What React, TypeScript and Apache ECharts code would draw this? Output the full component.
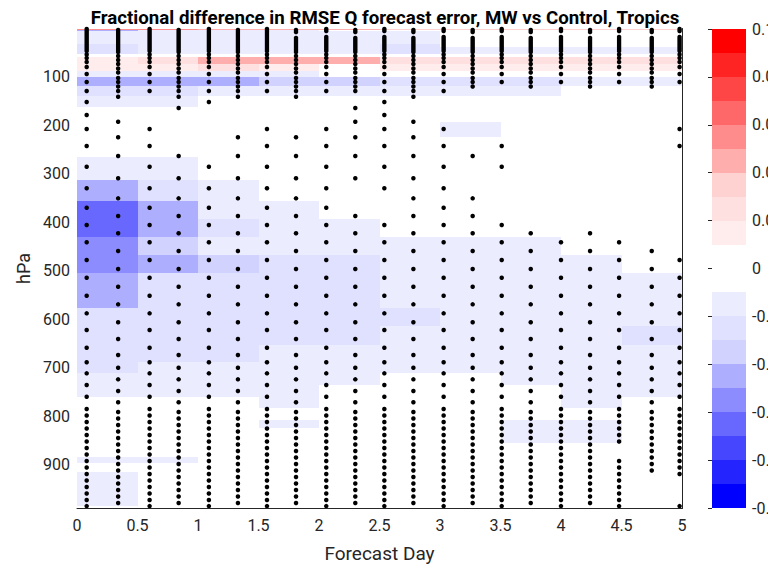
import React, { useEffect, useRef } from 'react';
import * as echarts from 'echarts';

const chartTitle = 'Fractional difference in RMSE Q forecast error, MW vs Control, Tropics';

// heatmap cell edges
const dayEdges = [0, 0.5, 1, 1.5, 2, 2.5, 3, 3.5, 4, 4.5, 5];
const pressureEdges = [0, 3, 6, 32, 38, 53, 59, 73, 88, 100, 118.6, 139.2, 161.9, 192.9, 223.8, 265, 312.5, 355.8, 393, 430, 467.2, 504.3, 539.4, 576.5, 613.7, 652.9, 688, 710.7, 735.4, 760.3, 782.9, 807.7, 824.3, 855.2, 884.1, 896.5, 915, 985];
const pressureTicks = [100, 200, 300, 400, 500, 600, 700, 800, 900];

// fractional difference, one row per pressure band, one column per half day
const fracDiff = [
  [0.055, 0.055, 0.045, 0.045, 0.045, 0.035, 0.035, 0.035, 0.035, 0.035],
  [-0.045, -0.015, -0.015, -0.015, 0, 0, 0, 0, 0, 0],
  [-0.015, -0.015, -0.015, -0.015, -0.015, -0.015, 0, 0, 0, 0],
  [-0.025, -0.015, -0.015, -0.015, -0.015, -0.025, 0, 0, 0, 0],
  [-0.025, -0.015, -0.015, -0.015, -0.015, -0.025, -0.015, -0.015, -0.015, -0.015],
  [0, 0, 0, 0, 0, 0, 0, 0, 0, 0],
  [0.015, 0.025, 0.045, 0.045, 0.045, 0.025, 0.025, 0.025, 0.025, 0.025],
  [0.015, 0.015, 0.025, 0.015, 0, 0.015, 0.015, 0.015, 0.015, 0.015],
  [-0.015, -0.015, -0.015, -0.015, 0, 0, 0, 0, 0, 0],
  [-0.045, -0.045, -0.045, -0.035, -0.035, -0.025, -0.025, -0.025, -0.015, -0.015],
  [-0.025, -0.025, -0.015, -0.015, -0.015, -0.015, -0.015, -0.015, 0, 0],
  [-0.015, -0.015, 0, 0, 0, 0, 0, 0, 0, 0],
  [0, 0, 0, 0, 0, 0, 0, 0, 0, 0],
  [0, 0, 0, 0, 0, 0, -0.015, 0, 0, 0],
  [0, 0, 0, 0, 0, 0, 0, 0, 0, 0],
  [-0.015, -0.015, 0, 0, 0, 0, 0, 0, 0, 0],
  [-0.045, -0.025, -0.015, 0, 0, 0, 0, 0, 0, 0],
  [-0.065, -0.045, -0.015, -0.015, 0, 0, 0, 0, 0, 0],
  [-0.065, -0.045, -0.025, -0.015, -0.015, 0, 0, 0, 0, 0],
  [-0.055, -0.035, -0.015, -0.015, -0.015, -0.015, -0.015, -0.015, 0, 0],
  [-0.055, -0.045, -0.035, -0.025, -0.025, -0.015, -0.015, -0.015, -0.015, 0],
  [-0.045, -0.025, -0.025, -0.025, -0.025, -0.015, -0.015, -0.015, -0.015, -0.015],
  [-0.045, -0.025, -0.025, -0.025, -0.025, -0.015, -0.015, -0.015, -0.015, -0.015],
  [-0.025, -0.025, -0.025, -0.025, -0.025, -0.025, -0.015, -0.015, -0.015, -0.015],
  [-0.025, -0.025, -0.025, -0.025, -0.025, -0.015, -0.015, -0.015, -0.015, -0.025],
  [-0.025, -0.025, -0.025, -0.015, -0.015, -0.015, -0.015, -0.015, -0.015, -0.015],
  [-0.025, -0.015, -0.015, -0.015, -0.015, -0.015, -0.015, -0.015, -0.015, -0.015],
  [-0.015, -0.015, -0.015, -0.015, -0.015, 0, 0, -0.015, -0.015, -0.015],
  [-0.015, -0.015, -0.015, -0.015, 0, 0, 0, 0, -0.015, -0.015],
  [0, 0, 0, -0.015, 0, 0, 0, 0, -0.015, 0],
  [0, 0, 0, 0, 0, 0, 0, 0, 0, 0],
  [0, 0, 0, -0.015, 0, 0, 0, -0.015, -0.015, 0],
  [0, 0, 0, 0, 0, 0, 0, -0.015, -0.015, 0],
  [0, 0, 0, 0, 0, 0, 0, 0, 0, 0],
  [-0.015, -0.015, 0, 0, 0, 0, 0, 0, 0, 0],
  [0, 0, 0, 0, 0, 0, 0, 0, 0, 0],
  [-0.015, 0, 0, 0, 0, 0, 0, 0, 0, 0],
];

// significance dots
const dotDays = [0.08, 0.34, 0.6, 0.84, 1.09, 1.33, 1.57, 1.81, 2.06, 2.3, 2.54, 2.78, 3.03, 3.27, 3.51, 3.75, 4.0, 4.24, 4.48, 4.75, 4.98];
const levelsA = [1.0, 5.2, 9.3, 13.4, 17.5, 21.7, 25.8, 29.9, 34.0, 38.2, 42.3, 46.4, 53.6, 60.9, 69.1, 79.4, 93.9, 110.4, 128.9, 151.6, 178.4, 207.3, 242.4, 285.1, 329.6, 369.6, 405.3, 441.0, 477.5, 514.0, 551.2, 587.5, 621.9, 658.4, 688.5, 711.2, 735.4, 759.5, 784.9, 798.3, 811.7, 825.1, 838.5, 851.9, 865.3, 878.7, 892.1, 905.5, 918.9, 932.3, 945.8, 959.2, 972.6, 985.0];
const levelsB = [3.1, 7.2, 11.3, 15.5, 19.6, 23.7, 27.8, 32.0, 36.1, 40.2, 44.3, 48.5, 56.7, 65.0, 73.2, 82.5, 90.8, 102.1, 110.4, 119.6, 128.9, 140.7, 164.0, 192.2, 224.4, 263.0, 309.0, 350.3, 386.8, 422.4, 458.9, 496.1, 532.6, 568.9, 606.0, 640.5, 673.5, 699.7, 723.6, 747.8, 771.0, 791.0, 804.4, 817.9, 831.3, 844.7, 858.1, 871.5, 884.9, 898.3, 911.7, 925.1, 938.5, 951.9, 965.4, 978.8];
const missingDots = [
  [],
  [164.0],
  [151.6, 178.4],
  [192.2, 224.4],
  [178.4, 207.3, 242.4],
  [164.0, 192.2],
  [151.6, 178.4],
  [164.0, 192.2],
  [151.6, 178.4],
  [140.7, 350.3],
  [369.6],
  [164.0],
  [151.6, 178.4],
  [128.9, 140.7, 164.0, 192.2, 224.4, 309.0],
  [128.9, 151.6, 178.4, 207.3, 329.6, 369.6],
  [128.9, 140.7, 164.0, 192.2, 224.4, 263.0, 309.0, 350.3, 386.8],
  [128.9, 151.6, 178.4, 207.3, 242.4, 285.1, 329.6, 369.6, 405.3],
  [128.9, 140.7, 164.0, 192.2, 224.4, 263.0, 309.0, 350.3, 386.8],
  [128.9, 151.6, 178.4, 207.3, 242.4, 285.1, 329.6, 369.6, 405.3, 865.3, 878.7],
  [128.9, 140.7, 164.0, 192.2, 224.4, 263.0, 309.0, 350.3, 386.8, 422.4, 925.1, 938.5, 951.9, 965.4, 978.8],
  [128.9, 151.6, 178.4, 285.1, 329.6, 369.6, 405.3, 441.0, 932.3, 945.8, 959.2, 972.6],
];
const topGapFromColumn = 7;
const topGap = [7.8, 16.9];

// colour scale
const binEdges = [-0.1, -0.09, -0.08, -0.07, -0.06, -0.05, -0.04, -0.03, -0.02, -0.01, 0, 0.01, 0.02, 0.03, 0.04, 0.05, 0.06, 0.07, 0.08, 0.09, 0.1];
const binColors = ['#0000FF', '#2424FF', '#4646FF', '#6868FF', '#8C8CFF', '#AEAEFF', '#D2D2FF', '#E0E0FF', '#ECECFF', '#FFFFFF', '#FFFFFF', '#FFECEC', '#FFE0E0', '#FFD2D2', '#FFAEAE', '#FF8C8C', '#FF6868', '#FF4646', '#FF2424', '#FF0000'];

const FONT = 'Roboto, "Noto Sans", sans-serif';
const INK = '#262626';

function colorFor(v: number): string {
  for (let i = 0; i < binColors.length; i++) {
    if (v >= binEdges[i] && v < binEdges[i + 1]) return binColors[i];
  }
  return v < 0 ? binColors[0] : binColors[binColors.length - 1];
}

export default function App() {
  const ref = useRef<HTMLDivElement>(null);
  useEffect(() => {
    if (!ref.current) return;
    const chart = echarts.init(ref.current, undefined, { renderer: 'svg' });

    const cells: number[][] = [];
    fracDiff.forEach((row, r) => {
      row.forEach((v, c) => {
        if (v !== 0) cells.push([dayEdges[c], dayEdges[c + 1], pressureEdges[r], pressureEdges[r + 1], v]);
      });
    });

    const dots: number[][] = [];
    dotDays.forEach((d, k) => {
      const levels = k % 2 === 0 ? levelsA : levelsB;
      levels.forEach((p) => {
        if (missingDots[k].indexOf(p) >= 0) return;
        if (k >= topGapFromColumn && p > topGap[0] && p < topGap[1]) return;
        dots.push([d, p]);
      });
    });

    const bins = binColors.map((_, i) => [0, 1, binEdges[i], binEdges[i + 1], i]);

    const rectItem = (api: any, fill: string) => {
      const a = api.coord([api.value(0), api.value(2)]);
      const b = api.coord([api.value(1), api.value(3)]);
      const x0 = Math.round(Math.min(a[0], b[0]));
      const x1 = Math.round(Math.max(a[0], b[0]));
      const y0 = Math.round(Math.min(a[1], b[1]));
      const y1 = Math.round(Math.max(a[1], b[1]));
      return { type: 'rect', shape: { x: x0, y: y0, width: x1 - x0, height: y1 - y0 }, style: { fill } };
    };

    const labelStyle = { fontFamily: FONT, fontSize: 16, color: INK };

    chart.setOption({
      animation: false,
      backgroundColor: '#ffffff',
      title: {
        text: chartTitle,
        left: 380,
        top: 3,
        textAlign: 'center',
        textStyle: { fontFamily: FONT, fontWeight: 'bold', fontSize: 18.7, color: '#000' },
      },
      grid: [
        { left: 77, top: 28.5, width: 605, height: 480, outerBoundsMode: 'none', containLabel: false },
        { left: 712, top: 29, width: 34, height: 479, outerBoundsMode: 'none', containLabel: false },
      ],
      xAxis: [
        {
          gridIndex: 0, type: 'value', min: 0, max: 5, interval: 0.5,
          name: 'Forecast Day', nameLocation: 'middle', nameGap: 35,
          nameTextStyle: { fontFamily: FONT, fontSize: 19, color: INK },
          axisLine: { show: true, onZero: false, lineStyle: { color: INK, width: 1 } },
          axisTick: { show: false }, splitLine: { show: false },
          axisLabel: { ...labelStyle, margin: 9 },
          z: 10,
        },
        { gridIndex: 1, type: 'value', min: 0, max: 1, show: false },
      ],
      yAxis: [
        {
          gridIndex: 0, type: 'value', inverse: true, min: 0, max: 990, interval: 100,
          name: 'hPa', nameLocation: 'middle', nameGap: 44,
          nameTextStyle: { fontFamily: FONT, fontSize: 18, color: INK },
          axisLine: { show: false }, axisTick: { show: false }, splitLine: { show: false },
          axisLabel: {
            ...labelStyle, margin: 7,
            formatter: (v: number) => (pressureTicks.indexOf(v) >= 0 ? String(v) : ''),
          },
        },
        {
          gridIndex: 0, type: 'value', position: 'right', inverse: true, min: 0, max: 990,
          axisLine: { show: true, onZero: false, lineStyle: { color: INK, width: 1 } },
          axisTick: { show: false }, axisLabel: { show: false }, splitLine: { show: false },
          z: 10,
        },
        {
          gridIndex: 1, type: 'value', position: 'right', min: -0.1, max: 0.1, interval: 0.02,
          axisLine: { show: false },
          axisTick: { show: true, inside: true, length: 4, lineStyle: { color: INK } },
          splitLine: { show: false },
          axisLabel: { ...labelStyle, margin: 6, formatter: (v: number) => String(Number(v.toFixed(2))) },
          z: 10,
        },
      ],
      series: [
        {
          type: 'custom', xAxisIndex: 0, yAxisIndex: 0, data: cells,
          encode: { x: [0, 1], y: [2, 3] },
          renderItem: (_p: any, api: any) => rectItem(api, colorFor(api.value(4))),
          silent: true, z: 1,
        },
        {
          type: 'scatter', xAxisIndex: 0, yAxisIndex: 0, data: dots,
          symbol: 'circle', symbolSize: 4.5, itemStyle: { color: '#000', opacity: 1 },
          silent: true, z: 3,
        },
        {
          type: 'custom', xAxisIndex: 1, yAxisIndex: 2, data: bins,
          encode: { x: [0, 1], y: [2, 3] },
          renderItem: (_p: any, api: any) => rectItem(api, binColors[api.value(4)]),
          silent: true, z: 1,
        },
      ],
    });
    return () => chart.dispose();
  }, []);

  return (
    <div style={{ position: 'absolute', left: 0, top: 0, width: 768, height: 566, overflow: 'hidden', background: '#fff' }}>
      <div ref={ref} style={{ width: 768, height: 566 }} />
    </div>
  );
}
